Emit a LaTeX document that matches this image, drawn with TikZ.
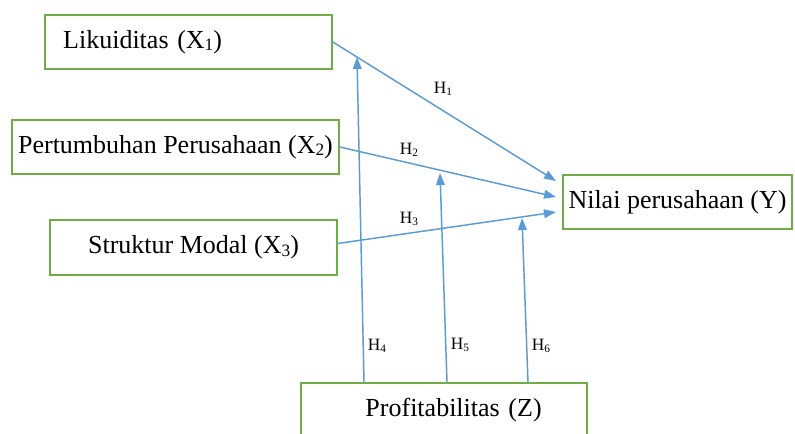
\documentclass[tikz,border=0pt]{standalone}
\usepackage{fontspec}
\setmainfont{Liberation Serif}
\usetikzlibrary{arrows.meta}
\definecolor{boxgreen}{HTML}{70AD47}
\definecolor{arrowblue}{HTML}{5B9BD5}
\newcommand{\lowidx}[1]{\raisebox{-0.2ex}{\fontsize{13}{13}\selectfont #1}}
\newcommand{\hidx}[1]{\raisebox{-0.2ex}{\fontsize{8.5}{8.5}\selectfont #1}}
\tikzset{
  varbox/.style={draw=boxgreen, line width=1.5pt, inner sep=0pt,
    font=\fontsize{19.5}{22}\selectfont, minimum height=41pt},
  hyp/.style={arrowblue, line width=1.1pt, -{Triangle[length=9pt,width=6.5pt]}},
  hlabel/.style={font=\fontsize{13}{15}\selectfont, inner sep=0pt}
}
\begin{document}
\begin{tikzpicture}[x=0.75pt, y=-0.75pt]
  \useasboundingbox (0,0) rectangle (795,434);
  % variabel
  \node [ varbox, minimum width=215pt, text width=188pt, align=left, inner xsep=13.5pt ] (x1) at (188.5,42) { Likuiditas (X\lowidx{1}) };
  \node [ varbox, minimum width=245pt ] (x2) at (175.5,147) { Pertumbuhan Perusahaan (X\lowidx{2}) };
  \node [ varbox, minimum width=215pt ] (x3) at (193.5,247.5) { Struktur Modal (X\lowidx{3}) };
  \node [ varbox, minimum width=172pt ] (yy) at (677.5,202) { Nilai perusahaan (Y) };
  \node [ varbox, minimum width=214pt, text width=146.5pt, align=right, inner xsep=33.75pt ] (z) at (444,410) { Profitabilitas (Z) };

  % titik ujung panah
  \coordinate (y1) at (556,181);
  \coordinate (y2) at (556,197);
  \coordinate (y3) at (556,212);
  \coordinate (t4) at (357,57);
  \coordinate (t5) at (440,173);
  \coordinate (t6) at (522,218);
  \coordinate (b4) at (364,382);
  \coordinate (b5) at (447,382);
  \coordinate (b6) at (528,382);

  \draw [ hyp ] (x1.east) -- (y1);
  \draw [ hyp ] (x2.east) -- (y2);
  \draw [ hyp ] ([yshift=3pt]x3.east) -- (y3);
  \draw [ hyp ] (b4) -- (t4);
  \draw [ hyp ] (b5) -- (t5);
  \draw [ hyp ] (b6) -- (t6);

  \node [ hlabel ] (h1) at (443,89) { H\hidx{1} };
  \node [ hlabel ] (h2) at (409,150) { H\hidx{2} };
  \node [ hlabel ] (h3) at (409,219) { H\hidx{3} };
  \node [ hlabel ] (h4) at (377,346) { H\hidx{4} };
  \node [ hlabel ] (h5) at (460,345) { H\hidx{5} };
  \node [ hlabel ] (h6) at (541,346) { H\hidx{6} };
\end{tikzpicture}
\end{document}
